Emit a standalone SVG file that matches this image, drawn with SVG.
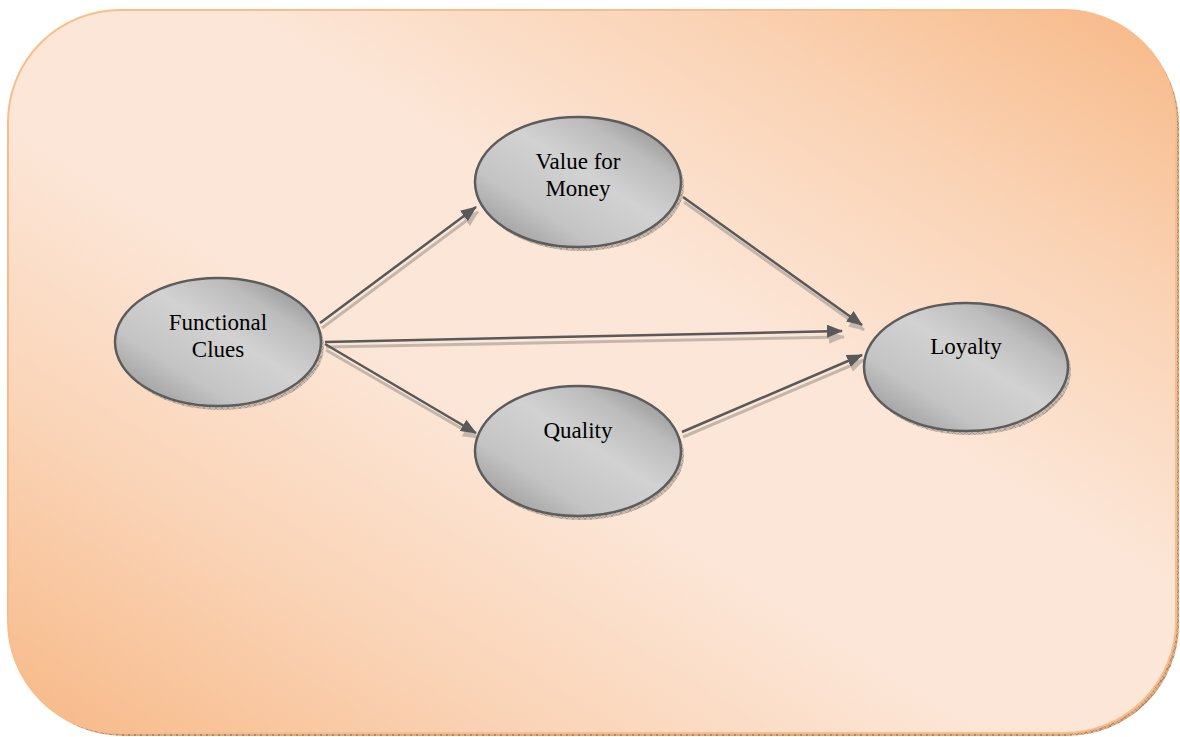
<svg xmlns="http://www.w3.org/2000/svg" width="1180" height="737" viewBox="0 0 1180 737">
  <defs>
    <linearGradient id="bgGrad" x1="0" y1="1" x2="1" y2="0">
      <stop offset="0" stop-color="#f7b886"/>
      <stop offset="0.22" stop-color="#fad3b5"/>
      <stop offset="0.42" stop-color="#fce6d7"/>
      <stop offset="0.6" stop-color="#fce6d7"/>
      <stop offset="0.8" stop-color="#fad2b3"/>
      <stop offset="1" stop-color="#f7b886"/>
    </linearGradient>
    <linearGradient id="nodeGrad" x1="0" y1="1" x2="1" y2="0">
      <stop offset="0" stop-color="#8c8c8c"/>
      <stop offset="0.3" stop-color="#c4c4c4"/>
      <stop offset="0.55" stop-color="#d2d2d2"/>
      <stop offset="0.75" stop-color="#bcbcbc"/>
      <stop offset="1" stop-color="#7e7e7e"/>
    </linearGradient>
    <pattern id="hatch" width="6" height="6" patternUnits="userSpaceOnUse">
      <rect width="6" height="6" fill="#c9b9ad"/>
      <path d="M0 6 L6 0 M0 0 L6 6" stroke="#9e8c80" stroke-width="0.7"/>
    </pattern>
    <pattern id="hatchBox" width="6" height="6" patternUnits="userSpaceOnUse">
      <rect width="6" height="6" fill="#d9ab84"/>
      <path d="M0 6 L6 0 M0 0 L6 6" stroke="#a67a55" stroke-width="0.7"/>
    </pattern>
    <marker id="head" viewBox="0 0 16 13" refX="15" refY="6.5" markerWidth="16" markerHeight="13" markerUnits="userSpaceOnUse" orient="auto">
      <path d="M0 0 L16 6.5 L0 13 Z" fill="#595959"/>
    </marker>
    <marker id="headShadow" viewBox="0 0 16 13" refX="15" refY="6.5" markerWidth="16" markerHeight="13" markerUnits="userSpaceOnUse" orient="auto">
      <path d="M0 0 L16 6.5 L0 13 Z" fill="#c4b6ab"/>
    </marker>
  </defs>
  <style>
    .node { fill: url(#nodeGrad); stroke: #5c5c5c; stroke-width: 2.5; }
    .shadow { fill: url(#hatch); }
    .label { font-family: "Liberation Serif", "Times New Roman", serif; font-size: 23px; fill: #000; text-anchor: middle; }
    .edge { stroke: #595959; stroke-width: 2.5; fill: none; marker-end: url(#head); }
    .edgeShadow { stroke: #c4b6ab; stroke-width: 3; fill: none; marker-end: url(#headShadow); }
  </style>

  <!-- panel -->
  <g id="panel">
    <rect x="11" y="13" width="1168" height="723" rx="112" ry="112" fill="url(#hatchBox)"/>
    <rect x="8" y="10" width="1168" height="723" rx="112" ry="112" fill="url(#bgGrad)" stroke="#f9bd8b" stroke-width="2"/>
  </g>

  <!-- connectors -->
  <g id="connectors">
    <line class="edgeShadow" x1="322" y1="328" x2="478" y2="212"/>
    <line class="edge" x1="320" y1="323" x2="476" y2="207"/>

    <line class="edgeShadow" x1="326" y1="347" x2="844" y2="337"/>
    <line class="edge" x1="325" y1="342" x2="842" y2="331"/>

    <line class="edgeShadow" x1="326" y1="350" x2="478" y2="438"/>
    <line class="edge" x1="325" y1="344" x2="476" y2="433"/>

    <line class="edgeShadow" x1="684" y1="202" x2="864" y2="330"/>
    <line class="edge" x1="683" y1="197" x2="862" y2="325"/>

    <line class="edgeShadow" x1="683" y1="437" x2="864" y2="360"/>
    <line class="edge" x1="682" y1="432" x2="862" y2="355"/>
  </g>

  <!-- nodes -->
  <g id="functional-clues">
    <ellipse class="shadow" cx="221" cy="346" rx="103" ry="64"/>
    <ellipse class="node" cx="218" cy="342" rx="103" ry="64"/>
    <text class="label" x="218" y="330">Functional</text>
    <text class="label" x="218" y="357">Clues</text>
  </g>

  <g id="value-for-money">
    <ellipse class="shadow" cx="581" cy="186" rx="103" ry="65"/>
    <ellipse class="node" cx="578" cy="182" rx="103" ry="65"/>
    <text class="label" x="578" y="169">Value for</text>
    <text class="label" x="578" y="196">Money</text>
  </g>

  <g id="quality">
    <ellipse class="shadow" cx="581" cy="455" rx="103" ry="65"/>
    <ellipse class="node" cx="578" cy="451" rx="103" ry="65"/>
    <text class="label" x="578" y="438">Quality</text>
  </g>

  <g id="loyalty">
    <ellipse class="shadow" cx="969" cy="371" rx="102" ry="64"/>
    <ellipse class="node" cx="966" cy="367" rx="102" ry="64"/>
    <text class="label" x="966" y="354">Loyalty</text>
  </g>
</svg>
